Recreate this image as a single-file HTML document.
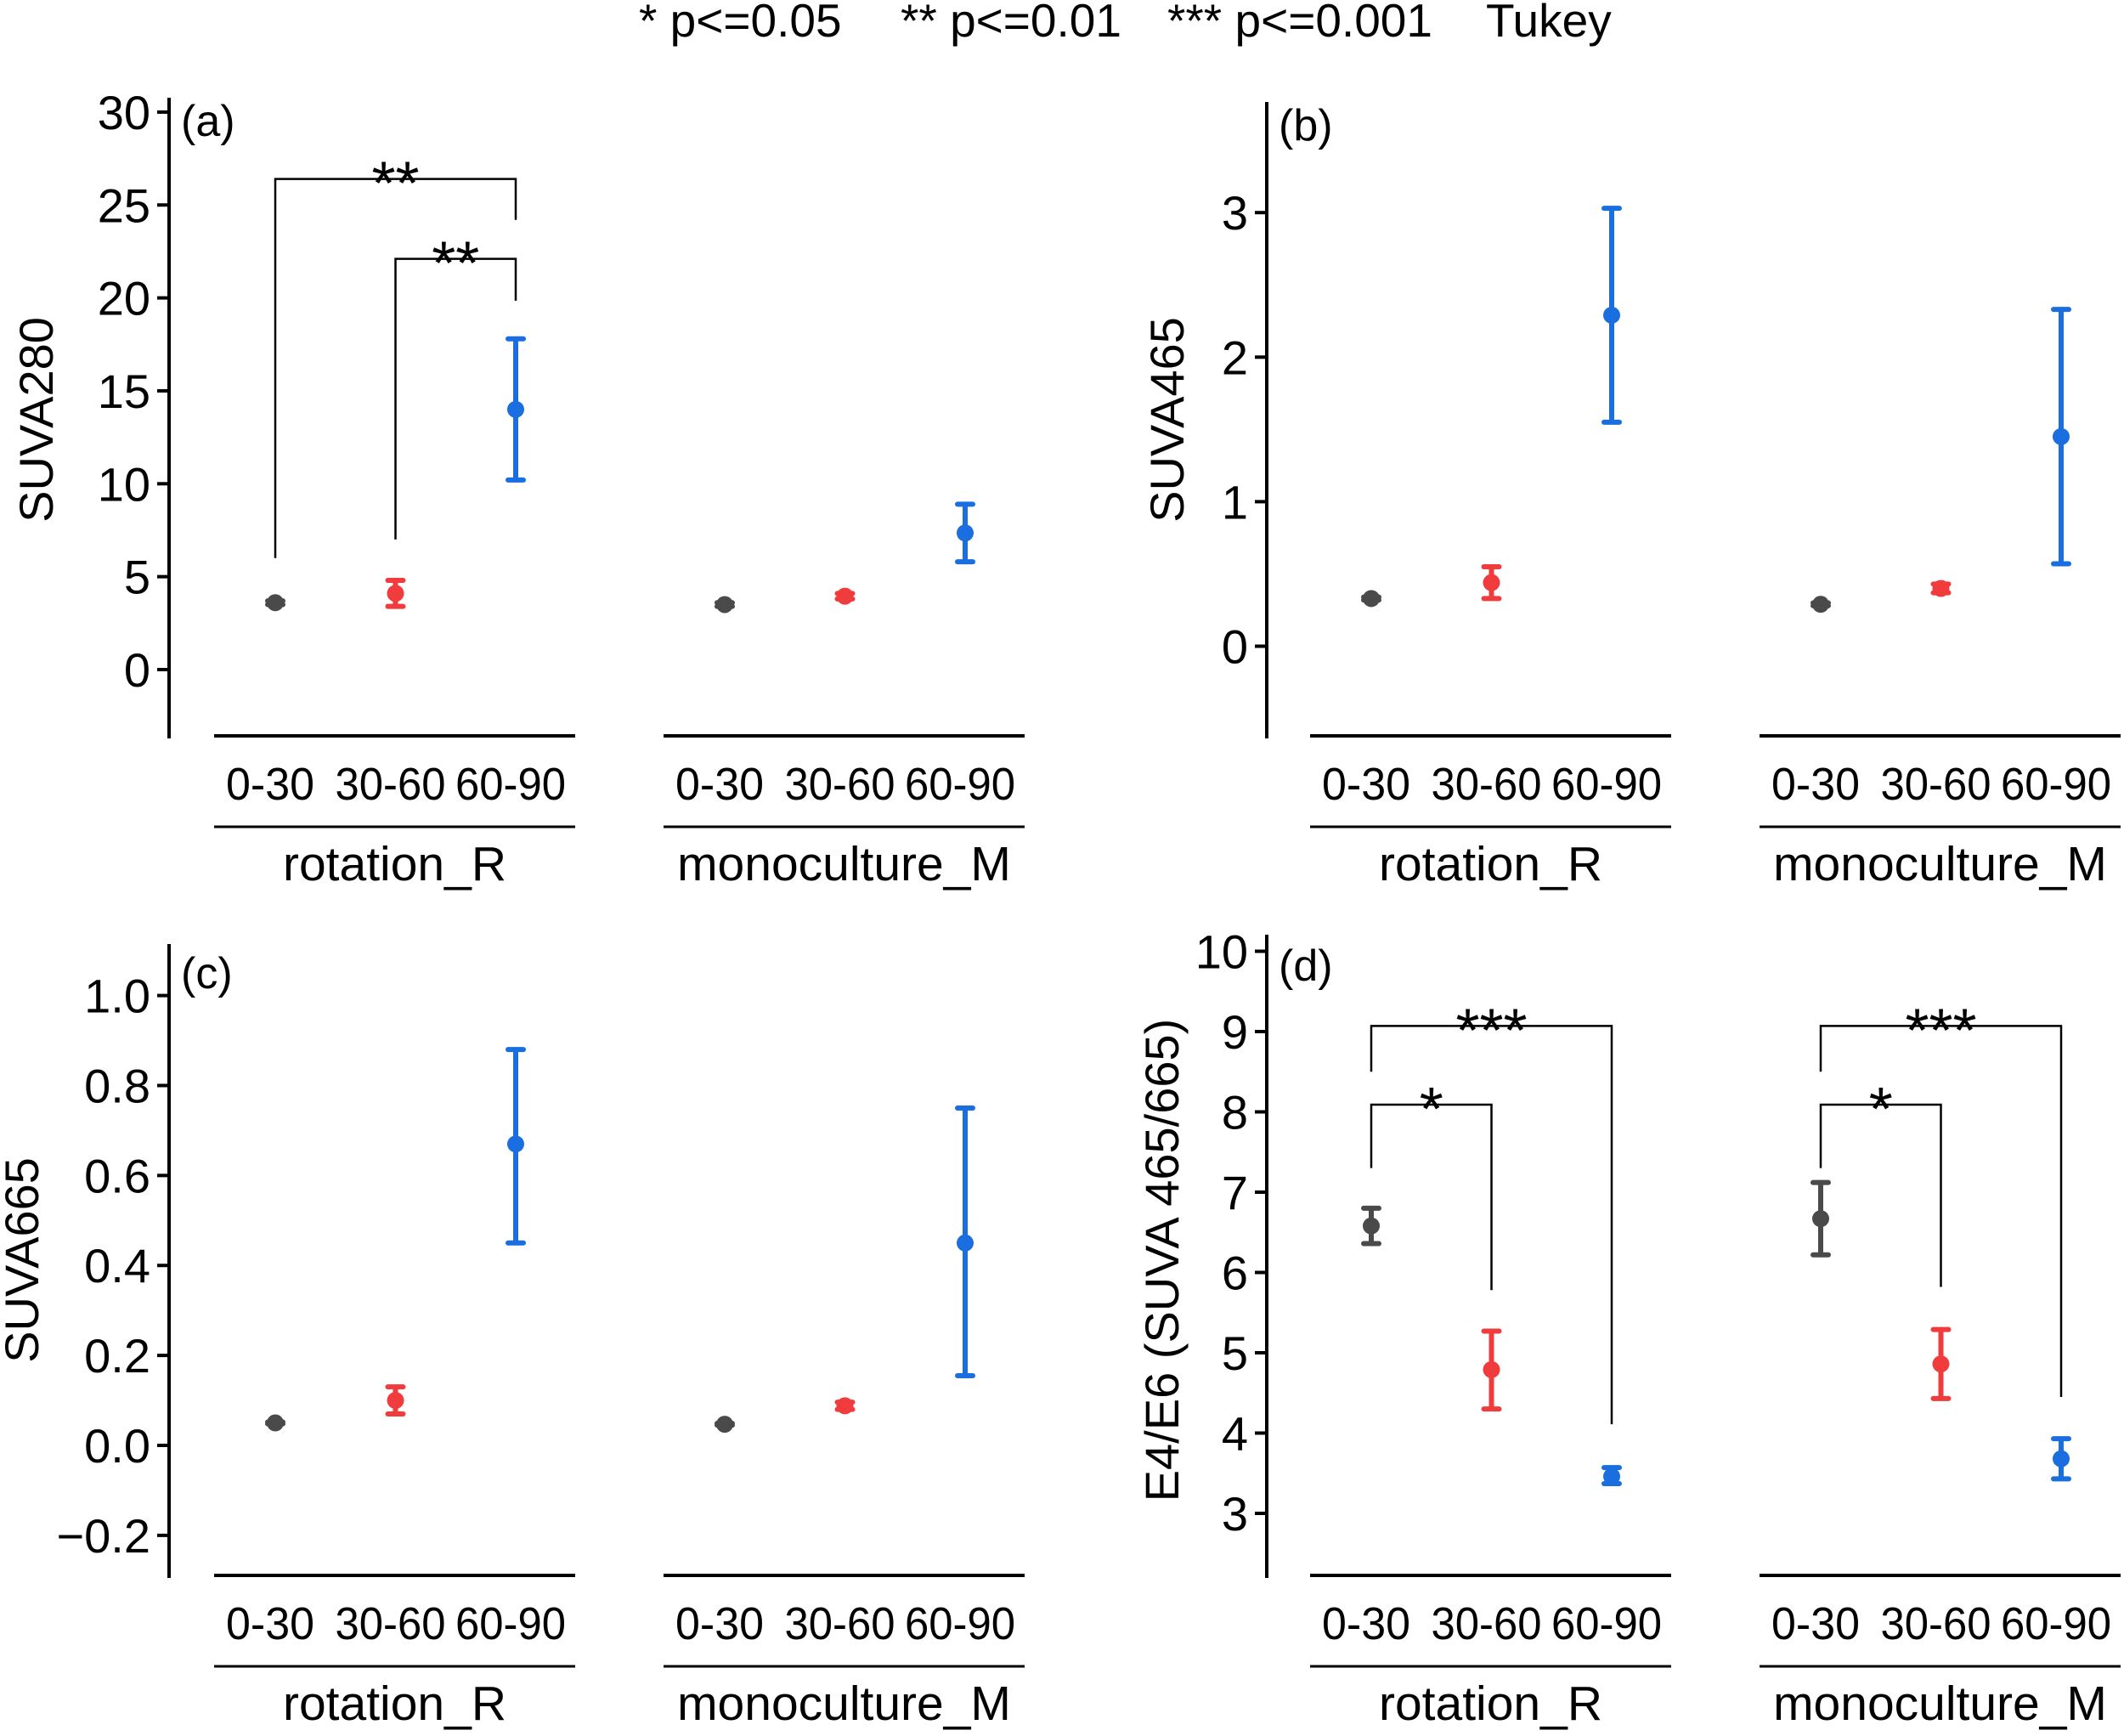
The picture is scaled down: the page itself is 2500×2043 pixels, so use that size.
<!DOCTYPE html>
<html><head><meta charset="utf-8">
<style>
html,body{margin:0;padding:0;background:#fff;}
svg{display:block;font-family:"Liberation Sans",Arial,sans-serif;}
</style></head>
<body>
<svg id="fig" width="2500" height="2043" viewBox="0 0 2500 2043" xmlns="http://www.w3.org/2000/svg">
<g font-size="55" fill="#000">
<text x="752" y="43">* p&lt;=0.05</text>
<text x="1060" y="43">** p&lt;=0.01</text>
<text x="1374" y="43">*** p&lt;=0.001</text>
<text x="1749" y="43">Tukey</text>
</g>
</svg>
<script>
// data
const depths = ["0-30","30-60","60-90"];
const groups = ["rotation_R","monoculture_M"];
const aMean = [3.6,4.1,14.0, 3.5,3.95,7.35];
const aLo   = [3.5,3.4,10.2, 3.4,3.8,5.8];
const aHi   = [3.7,4.8,17.8, 3.6,4.1,8.9];
const aTicks = [0,5,10,15,20,25,30];
const bMean = [0.33,0.44,2.29, 0.29,0.40,1.45];
const bLo   = [0.32,0.33,1.55, 0.28,0.37,0.57];
const bHi   = [0.34,0.55,3.03, 0.30,0.43,2.33];
const bTicks = [0,1,2,3];
const cMean = [0.05,0.10,0.67, 0.047,0.088,0.45];
const cLo   = [0.048,0.07,0.45, 0.045,0.08,0.155];
const cHi   = [0.052,0.13,0.88, 0.049,0.096,0.75];
const cTicks = [-0.2,0.0,0.2,0.4,0.6,0.8,1.0];
const cTickLabels = ["\u22120.2","0.0","0.2","0.4","0.6","0.8","1.0"];
const dMean = [6.58,4.79,3.46, 6.67,4.86,3.68];
const dLo   = [6.36,4.30,3.37, 6.22,4.43,3.43];
const dHi   = [6.80,5.27,3.57, 7.12,5.29,3.93];
const dTicks = [3,4,5,6,7,8,9,10];
// brackets: [fromIdx, toIdx, barValue, leftEnd, rightEnd, label]
const aBrackets = [[0,2,26.4,6.0,24.2,"**"],[1,2,22.1,7.0,19.85,"**"]];
const dBrackets = [[0,2,9.07,8.5,4.11,"***"],[0,1,8.09,7.3,5.78,"*"],[3,5,9.07,8.5,4.45,"***"],[3,4,8.09,7.3,5.82,"*"]];

const colors = ["#4a4a4a","#f03c3c","#1a6ee0"];
const NS = "http://www.w3.org/2000/svg";
const svg = document.getElementById("fig");
function mk(tag, attrs, parent){const e=document.createElementNS(NS,tag);for(const k in attrs)e.setAttribute(k,attrs[k]);(parent||svg).appendChild(e);return e;}

function panel(cfg){
  const g = mk("g",{});
  
  
  const y = v => cfg.y0 - (v - cfg.v0) * cfg.ppu;
  const xs = [0,1,2,3,4,5].map(i => cfg.xl + (i%3)*141.5 + Math.floor(i/3)*529);
  const ax = mk("line",{x1:cfg.ax,x2:cfg.ax,y1:cfg.axTop,y2:cfg.axBot,stroke:"#000","stroke-width":4},g);
  
  
  cfg.ticks.forEach((t,i)=>{
    const tl = mk("line",{x1:cfg.ax-14,x2:cfg.ax,y1:y(t),y2:y(t),stroke:"#000","stroke-width":4},g);
    
    
    const tx = mk("text",{x:cfg.ax-22,y:y(t)+20,"text-anchor":"end","font-size":56},g);
    tx.textContent = cfg.tickLabels ? cfg.tickLabels[i] : String(t);
    
    
  });
  const yt = mk("text",{x:0,y:0,"text-anchor":"middle","font-size":56,transform:`translate(${cfg.titleX},${cfg.titleY}) rotate(-90)`},g);
  yt.textContent = cfg.title;
  
  
  const pl = mk("text",{x:cfg.ax+14,y:cfg.labY,"font-size":52},g);
  pl.textContent = cfg.label;
  
  
  for(let k=0;k<2;k++){
    const x1 = xs[k*3]-72, x2 = xs[k*3+2]+70;
    const l1 = mk("line",{x1:x1,x2:x2,y1:cfg.gl1,y2:cfg.gl1,stroke:"#000","stroke-width":4},g);
    
    
    const l2 = mk("line",{x1:x1,x2:x2,y1:cfg.gl1+107,y2:cfg.gl1+107,stroke:"#000","stroke-width":3},g);
    
    
    for(let j=0;j<3;j++){
      const t = mk("text",{x:xs[k*3+j]-6,y:cfg.gl1+75,"text-anchor":"middle","font-size":54,"textLength":j==0?104:130,"lengthAdjust":"spacingAndGlyphs"},g);
      t.textContent = depths[j];
      
      
    }
    const gt = mk("text",{x:(x1+x2)/2,y:cfg.gl1+170,"text-anchor":"middle","font-size":57},g);
    gt.textContent = groups[k];
    
    
  }
  (cfg.brackets||[]).forEach(b=>{
    const xa=xs[b[0]], xb=xs[b[1]];
    const p = mk("path",{d:`M${xa},${y(b[3])}V${y(b[2])}H${xb}V${y(b[4])}`,fill:"none",stroke:"#000","stroke-width":2.5},g);
    
    
    const s = mk("text",{x:(xa+xb)/2,y:y(b[2])+30,"text-anchor":"middle","font-size":72},g);
    s.textContent = b[5];
    
    
  });
  cfg.mean.forEach((m,i)=>{
    const c = colors[i%3], x = xs[i];
    const eb = mk("path",{d:`M${x},${y(cfg.lo[i])}V${y(cfg.hi[i])}M${x-9},${y(cfg.lo[i])}H${x+9}M${x-9},${y(cfg.hi[i])}H${x+9}`,stroke:c,"stroke-width":6,fill:"none","stroke-linecap":"round"},g);
    
    
    const pt = mk("circle",{cx:x,cy:y(m),r:10,fill:c},g);
    
    
  });
}

panel({name:"panel-a",label:"(a)",title:"SUVA280",titleX:62,titleY:494,ax:199,axTop:115,axBot:869,xl:324,y0:788,v0:0,ppu:21.87,ticks:aTicks,mean:aMean,lo:aLo,hi:aHi,gl1:866,labY:160,brackets:aBrackets});
panel({name:"panel-b",label:"(b)",title:"SUVA465",titleX:1393,titleY:494,ax:1491,axTop:120,axBot:869,xl:1614,y0:760.5,v0:0,ppu:170.1,ticks:bTicks,mean:bMean,lo:bLo,hi:bHi,gl1:866,labY:165});
panel({name:"panel-c",label:"(c)",title:"SUVA665",titleX:45,titleY:1483,ax:199,axTop:1111,axBot:1857,xl:324,y0:1701,v0:0,ppu:529.4,ticks:cTicks,tickLabels:cTickLabels,mean:cMean,lo:cLo,hi:cHi,gl1:1854,labY:1163});
panel({name:"panel-d",label:"(d)",title:"E4/E6 (SUVA 465/665)",titleX:1387,titleY:1483,ax:1491,axTop:1100,axBot:1857,xl:1614,y0:1781,v0:3,ppu:94.5,ticks:dTicks,mean:dMean,lo:dLo,hi:dHi,gl1:1854,labY:1154,brackets:dBrackets});
</script>
</body></html>
